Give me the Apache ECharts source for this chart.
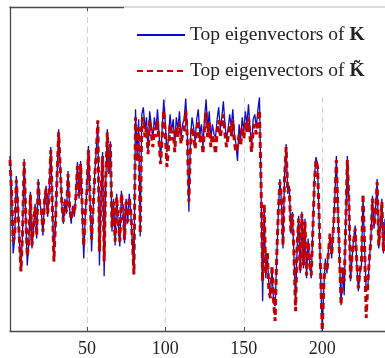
<!DOCTYPE html>
<html>
<head>
<meta charset="utf-8">
<script src="https://cdn.jsdelivr.net/npm/echarts@6/dist/echarts.min.js"></script>
<style>
  html, body { margin: 0; padding: 0; background: #fff; }
  #chart { width: 385px; height: 358px; }
</style>
</head>
<body>
<div id="chart"></div>
<script>
// entry index runs 1..240 (arbitrary units)
const xTicks = [50, 100, 150, 200];

const topK = [
  176,143,78,93,156,128,88,63,98,173, 118,66,88,140,83,105,128,93,153,128,
  120,96,133,146,115,141,185,128,70,108, 158,203,205,128,108,133,118,161,123,108,
  126,115,138,170,133,171,173,73,118,143, 186,133,80,123,158,183,210,66,133,180,
  55,148,203,158,191,100,133,86,138,108, 85,141,123,88,133,108,138,118,88,57,
  223,176,213,95,218,225,203,215,180,221, 208,193,215,203,223,198,171,205,233,208,
  180,193,218,201,213,188,215,203,221,195, 208,213,234,203,120,193,215,205,191,213,
  223,198,208,185,215,233,203,221,193,208, 198,195,213,225,203,215,231,208,193,203,
  218,205,223,198,188,171,208,193,215,201, 221,208,228,203,185,213,218,205,223,235,
  143,30,123,53,78,46,36,63,28,25, 73,118,153,130,83,158,188,138,146,98,
  120,73,30,83,116,58,120,63,113,53, 93,68,53,103,153,175,168,113,53,0,
  43,73,58,83,96,73,103,133,176,123, 73,26,63,36,113,176,133,50,73,93,
  106,68,40,58,66,136,83,40,43,70, 93,136,103,123,153,83,103,133,78,113
];

const topKTilde = [
  172,140,90,96,152,125,92,60,100,170, 120,75,90,137,86,108,125,96,150,126,
  122,100,130,143,118,138,182,126,70,110, 155,200,202,130,110,130,120,158,125,112,
  124,118,135,166,136,168,170,85,120,140, 182,135,92,125,155,180,212,80,135,176,
  70,150,200,160,188,104,130,90,135,110, 90,138,125,92,130,110,135,120,92,57,
  215,170,205,98,210,215,195,205,178,212, 200,185,205,195,212,190,168,196,222,198,
  165,185,208,192,202,180,205,195,210,188, 198,202,222,195,130,185,205,196,183,202,
  212,190,198,178,205,220,195,210,185,198, 190,178,202,212,195,205,218,198,185,195,
  208,196,212,190,180,185,198,186,205,193, 210,200,215,195,180,203,208,198,212,222,
  150,50,128,58,80,40,33,66,30,10, 76,120,150,132,86,155,185,140,143,100,
  118,76,20,86,113,60,118,66,110,56, 90,70,56,100,150,172,165,116,56,0,
  46,70,60,80,98,76,100,130,172,120, 76,26,66,50,110,172,130,53,76,90,
  103,70,43,60,70,138,86,13,46,73, 90,133,106,120,150,86,106,130,80,110
];

const seriesNames = ['Top eigenvectors of K', 'Top eigenvectors of K\u0303'];

const FONT = '"Liberation Serif", "DejaVu Serif", serif';
const toPoints = arr => arr.map((v, i) => [i + 1, v]);

const chart = echarts.init(document.getElementById('chart'), null, { renderer: 'canvas' });

const option = {
  animation: false,
  backgroundColor: '#fff',
  grid: { left: 10, top: 7, bottom: 25, right: -7.4 },
  xAxis: [
    {
      type: 'value', min: 1, max: 240, splitNumber: 5,
      axisLine: { lineStyle: { color: '#4a4a4a', width: 1.3 } },
      axisTick: { inside: true, length: 4, lineStyle: { color: '#4a4a4a' } },
      axisLabel: {
        showMinLabel: false, showMaxLabel: false, margin: 9,
        fontFamily: FONT, fontSize: 18, color: '#222',
        formatter: v => (xTicks.indexOf(v) >= 0 ? String(v) : '')
      },
      splitLine: { show: true, lineStyle: { color: '#d2d2d2', type: [6, 4], width: 1 } }
    },
    {
      type: 'value', min: 1, max: 240, splitNumber: 5, position: 'top',
      axisLine: { lineStyle: { color: '#4a4a4a', width: 1.3 } },
      axisTick: { inside: true, length: 4, lineStyle: { color: '#4a4a4a' } },
      axisLabel: { show: false },
      splitLine: { show: false }
    }
  ],
  yAxis: {
    type: 'value', min: 0, max: 326,
    axisLine: { show: true, lineStyle: { color: '#4a4a4a', width: 1.3 } },
    axisTick: { show: false },
    axisLabel: { show: false },
    splitLine: { show: false }
  },
  legend: {
    orient: 'vertical',
    left: 131, top: 20,
    itemWidth: 48, itemHeight: 20, itemGap: 16,
    data: seriesNames,
    itemStyle: { opacity: 0 },
    formatter: name => name === seriesNames[0]
      ? '{n|Top eigenvectors of }{b|K}'
      : '{n|Top eigenvectors of }{b|K\u0303}',
    textStyle: {
      color: '#222',
      rich: {
        n: { fontFamily: FONT, fontSize: 19.5, color: '#222', lineHeight: 20 },
        b: { fontFamily: FONT, fontSize: 19.5, fontWeight: 'bold', color: '#222', lineHeight: 20 }
      }
    }
  },
  graphic: [
    { type: 'rect', z: 3, shape: { x: 124, y: 5, width: 270, height: 92 }, style: { fill: '#fff' } },
    { type: 'line', z: 5, shape: { x1: 124, y1: 7, x2: 390, y2: 7 }, style: { stroke: '#b8b8b8', lineWidth: 1.2 } }
  ],
  series: [
    {
      name: seriesNames[0], type: 'line', data: toPoints(topK),
      symbol: 'none', z: 2,
      lineStyle: { color: '#0a0ac8', width: 1.3 },
      itemStyle: { color: '#0a0ac8' }
    },
    {
      name: seriesNames[1], type: 'line', data: toPoints(topKTilde),
      symbol: 'none', z: 2,
      lineStyle: { color: '#c00000', width: 3, type: [6, 4] },
      itemStyle: { color: '#c00000' }
    }
  ]
};

chart.setOption(option);
</script>
</body>
</html>
